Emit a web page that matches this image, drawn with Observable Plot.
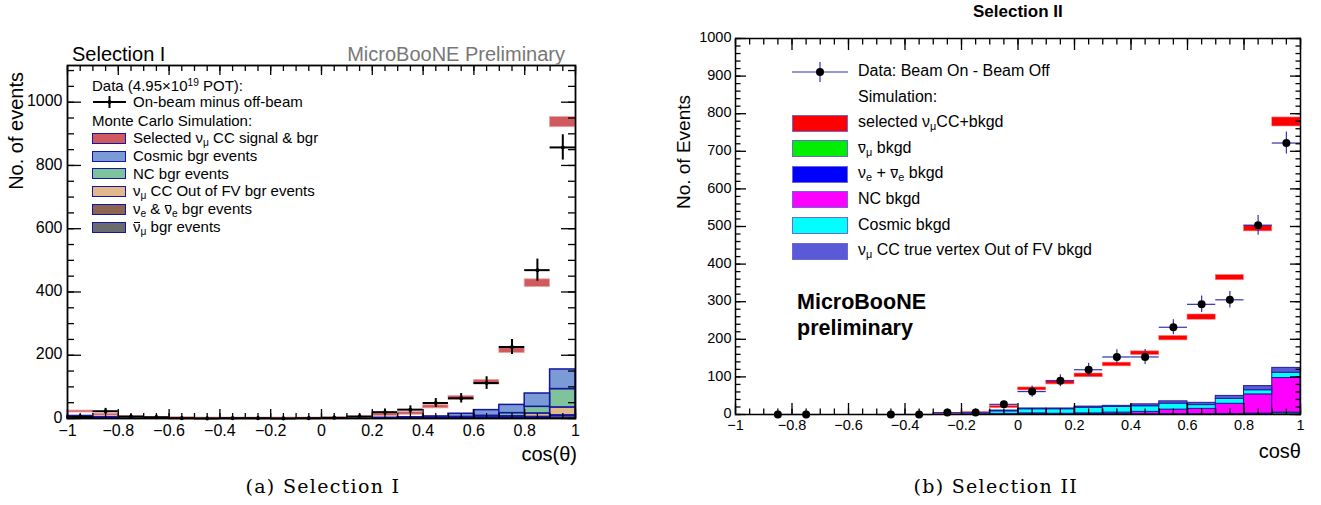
<!DOCTYPE html>
<html><head><meta charset="utf-8">
<script src="https://cdn.jsdelivr.net/npm/d3@7"></script>
<script src="https://cdn.jsdelivr.net/npm/@observablehq/plot@0.6"></script>
<style>
body{margin:0;background:#fff;}
#wrap{position:relative;width:1321px;height:505px;overflow:hidden;background:#fff;font-family:"Liberation Sans",Arial,Helvetica,sans-serif;color:#000;}
.t{position:absolute;white-space:nowrap;line-height:1;}
#wrap svg.plot{position:absolute;top:0;}
.sub{font-size:0.68em;vertical-align:-0.3em;line-height:0;}
.sup{font-size:0.68em;vertical-align:0.5em;line-height:0;}
.bar{position:relative;}
.bar::before{content:"";position:absolute;left:0.06em;right:0.04em;top:0.3em;border-top:1px solid currentColor;}
.vert{writing-mode:vertical-rl;transform:rotate(180deg);}
.sw{position:absolute;box-sizing:border-box;}
</style></head><body><div id="wrap"></div>
<script>
// ---------- shared binning / ticks ----------
const binEdges = [-1,-0.9,-0.8,-0.7,-0.6,-0.5,-0.4,-0.3,-0.2,-0.1,0,0.1,0.2,0.3,0.4,0.5,0.6,0.7,0.8,0.9,1];
const xTickLabels = [-1,-0.8,-0.6,-0.4,-0.2,0,0.2,0.4,0.6,0.8,1];

// ---------- Selection I (left) ----------
const s1Data     = [5,23,6,4,1,0,1,1,0,1,2,6,20,28,49,64,112,226,469,857];
const s1DataErr  = [7,9,7,6,5,5,5,5,5,5,6,8,10,12,14,15,20,24,35,40];
const s1MC       = [22,12,5,3,2,1,1,1,1,1,2,4,12,16,37,65,115,216,428,937];
const s1MCErr    = [3,3,2.5,2,2,2,2,2,2,2,2,3,4,4,5,6,7,9,12,16];
const s1Cosmic   = [5,3,1.5,1,0.8,0.5,0.5,0.5,0.5,0.5,0.6,1,1.5,2.5,4,10,18,26,42,62];
const s1NC       = [1,0.5,0.3,0.2,0.1,0.1,0.1,0.1,0.1,0.1,0.1,0.3,0.5,0.8,1.5,3,5,10,21,58];
const s1OOFV     = [2,1,0.5,0.3,0.2,0.1,0.1,0.1,0.1,0.1,0.1,0.1,0.2,0.3,0.5,1,2,4,11,25];
const s1Nue      = [0,0,0,0,0,0,0,0,0,0,0,0,0.1,0.1,0.2,0.5,0.5,1,1,2];
const s1AntiNumu = [0,0,0,0,0,0,0,0,0,0,0,0,0.1,0.2,0.3,0.5,1,2,4,8];
const s1YTicks   = [0,200,400,600,800,1000];

// ---------- Selection II (right) ----------
const s2Data     = [null,0,0,null,null,0,0,5,5,27,61,90,119,153,153,232,293,305,503,722];
const s2DataErr  = [null,1,1,null,null,1,1,3,3,8,15,16,17,19,20,20,22,22,26,29];
const s2MC       = [0,0,0,0,0,0,0,2,5,20,68,85,104,133,163,203,259,364,495,778];
const s2MCErr    = [0,0,0,0,0,0,0,1.5,2,3,4,5,5,5,5,6,7,7,8,12];
const s2OOFV     = [0,0,0,0,0,0,0,0,0.5,2,2,2,3,3,5,6,6,8,11,13];
const s2Cosmic   = [0,0,0,0,0,0,0,0.5,1,7,11,12,15,15,15,16,10,13,11,14];
const s2NC       = [0,0,0,0,0,0,0,0,0.3,1,2,1,2,4,6,12,14,27,51,92];
const s2Nue      = [0,0,0,0,0,0,0,0,0,0.5,1,1,1,1,1,1,1,1,1,1];
const s2AntiNumu = [0,0,0,0,0,0,0,0,0,0,0,0,0,0,0,0,0,0.5,1.5,4];
const s2YTicks   = [0,100,200,300,400,500,600,700,800,900,1000];

// ---------- helpers ----------
const bins = binEdges.slice(0, -1).map((lo, i) => ({i, lo, hi: binEdges[i + 1], mid: (lo + binEdges[i + 1]) / 2}));
const tickFmt = d => d === 0 ? "0" : String(d).replace("-", "\u2212");
const yFmt = d => String(d);
const xMinor = d3.range(-1, 1.0001, 0.05);
function stackRows(layers) {
  return layers.flatMap(L => bins.map(b => ({layer: L.name, x1: b.lo, x2: b.hi, v: L.values[b.i]})));
}
function pts(vals, errs) {
  return bins.filter(b => vals[b.i] != null).map(b => ({...b, v: vals[b.i], e: errs[b.i]}));
}
function frameTicks({yMajor, yMinor, yMajL, yMinL, xMajL, xMinL}) {
  const m = [];
  for (const a of ["left", "right"]) {
    const s = a === "left" ? 1 : -1;
    m.push(Plot.axisY(yMajor, {anchor: a, tickSize: yMajL[a], dx: s * yMajL[a], fill: "none", label: null, strokeWidth: 1.3}));
    m.push(Plot.axisY(yMinor, {anchor: a, tickSize: yMinL[a], dx: s * yMinL[a], fill: "none", label: null, strokeWidth: 1.3}));
  }
  for (const a of ["bottom", "top"]) {
    const s = a === "top" ? 1 : -1;
    m.push(Plot.axisX(xTickLabels, {anchor: a, tickSize: xMajL, dy: s * xMajL, fill: "none", label: null, strokeWidth: 1.3}));
    m.push(Plot.axisX(xMinor, {anchor: a, tickSize: xMinL, dy: s * xMinL, fill: "none", label: null, strokeWidth: 1.3}));
  }
  return m;
}

const wrap = document.getElementById("wrap");

// ---------- Left plot ----------
const s1Names = ["antinumu", "nue", "oofv", "nc", "cosmic"];
const s1Colors = ["#6b6b6b", "#8c6450", "#e1b98b", "#7ec39c", "#7b9bd6"];
const s1Stack = stackRows([
  {name: "antinumu", values: s1AntiNumu},
  {name: "nue", values: s1Nue},
  {name: "oofv", values: s1OOFV},
  {name: "nc", values: s1NC},
  {name: "cosmic", values: s1Cosmic}
]);
const s1Pts = pts(s1Data, s1DataErr);
const s1Band = bins.filter(b => s1MC[b.i] > 0);

const left = Plot.plot({
  width: 600, height: 470,
  marginLeft: 67, marginRight: 25, marginTop: 65, marginBottom: 52,
  x: {domain: [-1, 1]},
  y: {domain: [0, 1116]},
  color: {domain: s1Names, range: s1Colors},
  style: {fontFamily: "'Liberation Sans', Arial, sans-serif", fontSize: "16px", color: "black", background: "transparent"},
  marks: [
    Plot.rectY(s1Stack, {x1: "x1", x2: "x2", y: "v", fill: "layer", stroke: "#1515a0", strokeWidth: 1.5, inset: 0}),
    Plot.rect(s1Band, {x1: "lo", x2: "hi", y1: b => Math.max(0, s1MC[b.i] - s1MCErr[b.i]), y2: b => s1MC[b.i] + s1MCErr[b.i], fill: "#d05a5e", stroke: "#e9a3a5", strokeWidth: 0.8, inset: 0}),
    Plot.ruleY(s1Pts, {x1: "lo", x2: "hi", y: "v", stroke: "black", strokeWidth: 2}),
    Plot.ruleX(s1Pts, {x: "mid", y1: d => Math.max(0, d.v - d.e), y2: d => d.v + d.e, stroke: "black", strokeWidth: 2}),
    Plot.dot(s1Pts, {x: "mid", y: "v", r: 2, fill: "black"}),
    ...frameTicks({yMajor: s1YTicks, yMinor: d3.range(0, 1116, 50), yMajL: {left: 14, right: 15}, yMinL: {left: 7, right: 8}, xMajL: 9, xMinL: 5}),
    Plot.axisX(xTickLabels, {anchor: "bottom", tickSize: 0, tickPadding: 6, stroke: "none", tickFormat: tickFmt, label: null, fontSize: 16}),
    Plot.axisY(s1YTicks, {anchor: "left", tickSize: 0, tickPadding: 5, stroke: "none", tickFormat: yFmt, label: null, fontSize: 16, dy: -1}),
    Plot.frame({stroke: "black", strokeWidth: 1.8})
  ]
});
left.classList.add("plot");
left.style.left = "0px";
wrap.appendChild(left);

// ---------- Right plot ----------
const s2Names = ["antinumu", "nue", "nc", "cosmic", "oofv"];
const s2Colors = ["#00ee00", "#0000ff", "#ff00ff", "#00ffff", "#5a5ad8"];
const s2Stack = stackRows([
  {name: "antinumu", values: s2AntiNumu},
  {name: "nue", values: s2Nue},
  {name: "nc", values: s2NC},
  {name: "cosmic", values: s2Cosmic},
  {name: "oofv", values: s2OOFV}
]);
const s2Pts = pts(s2Data, s2DataErr);
const s2Band = bins.filter(b => s2MC[b.i] > 0);

const right = Plot.plot({
  width: 681, height: 470,
  marginLeft: 95, marginRight: 21, marginTop: 38, marginBottom: 56,
  x: {domain: [-1, 1]},
  y: {domain: [0, 1000]},
  color: {domain: s2Names, range: s2Colors},
  style: {fontFamily: "'Liberation Sans', Arial, sans-serif", fontSize: "14px", color: "black", background: "transparent"},
  marks: [
    Plot.rectY(s2Stack, {x1: "x1", x2: "x2", y: "v", fill: "layer", stroke: "#1e1e9a", strokeWidth: 1, inset: 0}),
    Plot.rect(s2Band, {x1: "lo", x2: "hi", y1: b => Math.max(0, s2MC[b.i] - s2MCErr[b.i]), y2: b => s2MC[b.i] + s2MCErr[b.i], fill: "#ff0000", stroke: "#ff8080", strokeWidth: 0.6, inset: 0}),
    Plot.ruleY(s2Pts, {x1: "lo", x2: "hi", y: "v", stroke: "#3232b4", strokeWidth: 1.2}),
    Plot.ruleX(s2Pts, {x: "mid", y1: d => Math.max(0, d.v - d.e), y2: d => d.v + d.e, stroke: "#3232b4", strokeWidth: 1.2}),
    Plot.dot(s2Pts, {x: "mid", y: "v", r: 4, fill: "black"}),
    ...frameTicks({yMajor: s2YTicks, yMinor: d3.range(0, 1001, 20), yMajL: {left: 11, right: 11}, yMinL: {left: 5.5, right: 5.5}, xMajL: 11, xMinL: 5.5}),
    Plot.axisX(xTickLabels, {anchor: "bottom", tickSize: 0, tickPadding: 5, stroke: "none", tickFormat: tickFmt, label: null, fontSize: 14.5}),
    Plot.axisY(s2YTicks, {anchor: "left", tickSize: 0, tickPadding: 4, stroke: "none", tickFormat: yFmt, label: null, fontSize: 14.5, dy: -1}),
    Plot.frame({stroke: "black", strokeWidth: 1.5})
  ]
});
right.classList.add("plot");
right.style.left = "640px";
wrap.appendChild(right);

// ---------- text overlays ----------
function text(html, {left, right, cy, size = 14, weight = "normal", color = "#000", family, cls = ""}) {
  const d = document.createElement("div");
  d.className = "t " + cls;
  d.innerHTML = html;
  d.style.fontSize = size + "px";
  d.style.fontWeight = weight;
  d.style.color = color;
  if (family) d.style.fontFamily = family;
  d.style.top = (cy - size * 0.55) + "px";
  if (left != null) d.style.left = left + "px";
  if (right != null) d.style.right = (1321 - right) + "px";
  wrap.appendChild(d);
  return d;
}
function centerText(html, cx, opts) {
  const d = text(html, {left: 0, ...opts});
  d.style.left = (cx - d.offsetWidth / 2) + "px";
  return d;
}
function swatch(x, y, w, h, fill, border, bw) {
  const s = document.createElement("div");
  s.className = "sw";
  Object.assign(s.style, {left: x + "px", top: y + "px", width: w + "px", height: h + "px", background: fill, border: `${bw}px solid ${border}`});
  wrap.appendChild(s);
}
function vtext(html, {cx, top, size}) {
  const d = document.createElement("div");
  d.className = "t vert";
  d.innerHTML = html;
  d.style.fontSize = size + "px";
  d.style.top = top + "px";
  d.style.left = (cx - size * 0.55) + "px";
  wrap.appendChild(d);
}
const nu = s => `\u03BD<span class="sub">${s}</span>`;
const nubar = s => `<span class="bar">\u03BD</span><span class="sub">${s}</span>`;

// left panel titles
text("Selection I", {left: 72, cy: 55, size: 20});
text("MicroBooNE Preliminary", {right: 565, cy: 55, size: 20, color: "#777"});
vtext("No. of events", {cx: 17, top: 72, size: 20});
text("cos(\u03B8)", {right: 577, cy: 455, size: 20});

// left legend
text(`Data (4.95\u00D710<span class="sup">19</span> POT):`, {left: 92, cy: 86, size: 15});
{
  const s = document.createElementNS("http://www.w3.org/2000/svg", "svg");
  s.setAttribute("width", 40); s.setAttribute("height", 20);
  Object.assign(s.style, {position: "absolute", left: "90px", top: "92px"});
  s.innerHTML = '<line x1="3" x2="36" y1="10" y2="10" stroke="black" stroke-width="2"/><line x1="19.5" x2="19.5" y1="4" y2="16" stroke="black" stroke-width="2"/><circle cx="19.5" cy="10" r="2" fill="black"/>';
  wrap.appendChild(s);
}
text("On-beam minus off-beam", {left: 133, cy: 102, size: 15});
text("Monte Carlo Simulation:", {left: 92, cy: 121, size: 15});
const l1Items = [
  ["#d05a5e", `Selected ${nu("\u03BC")} CC signal &amp; bgr`],
  ["#7b9bd6", "Cosmic bgr events"],
  ["#7ec39c", "NC bgr events"],
  ["#e1b98b", `${nu("\u03BC")} CC Out of FV bgr events`],
  ["#8c6450", `${nu("e")} &amp; ${nubar("e")} bgr events`],
  ["#6b6b6b", `${nubar("\u03BC")} bgr events`]
];
l1Items.forEach(([c, lab], k) => {
  const cy = 138.5 + k * 17.7;
  swatch(92, cy - 5.5, 34, 11, c, "#1515a0", 1.5);
  text(lab, {left: 133, cy, size: 15});
});

// right panel titles
centerText("Selection II", 1018, {cy: 12, size: 17, weight: "bold"});
vtext("No. of Events", {cx: 684, top: 95, size: 19});
text("cos\u03B8", {right: 1301, cy: 452, size: 20});
text("MicroBooNE", {left: 797, cy: 304, size: 21.5, weight: "bold"});
text("preliminary", {left: 797, cy: 330, size: 21.5, weight: "bold"});

// right legend
{
  const s = document.createElementNS("http://www.w3.org/2000/svg", "svg");
  s.setAttribute("width", 60); s.setAttribute("height", 26);
  Object.assign(s.style, {position: "absolute", left: "790px", top: "59px"});
  s.innerHTML = '<line x1="2" x2="58" y1="13" y2="13" stroke="#3232b4" stroke-width="1.2"/><line x1="30" x2="30" y1="3" y2="23" stroke="#3232b4" stroke-width="1.2"/><circle cx="30" cy="13" r="4" fill="black"/>';
  wrap.appendChild(s);
}
text("Data: Beam On - Beam Off", {left: 858, cy: 72, size: 16});
text("Simulation:", {left: 858, cy: 98, size: 16});
const l2Items = [
  ["#ff0000", `selected ${nu("\u03BC")}CC+bkgd`],
  ["#00ee00", `${nubar("\u03BC")} bkgd`],
  ["#0000ff", `${nu("e")} + ${nubar("e")} bkgd`],
  ["#ff00ff", "NC bkgd"],
  ["#00ffff", "Cosmic bkgd"],
  ["#5a5ad8", `${nu("\u03BC")} CC true vertex Out of FV bkgd`]
];
l2Items.forEach(([c, lab], k) => {
  const cy = 123 + k * 25.6;
  swatch(792, cy - 8.5, 56, 17, c, "#6a6ad0", 1);
  text(lab, {left: 858, cy, size: 16});
});

// captions
const serifCap = {cy: 487, size: 19, family: "'DejaVu Serif', 'Liberation Serif', serif"};
const c1 = centerText("(a) Selection I", 323, serifCap);
c1.style.letterSpacing = "1.3px"; c1.style.left = (323 - c1.offsetWidth / 2) + "px";
const c2 = centerText("(b) Selection II", 996, serifCap);
c2.style.letterSpacing = "1.3px"; c2.style.left = (996 - c2.offsetWidth / 2) + "px";
</script></body></html>
